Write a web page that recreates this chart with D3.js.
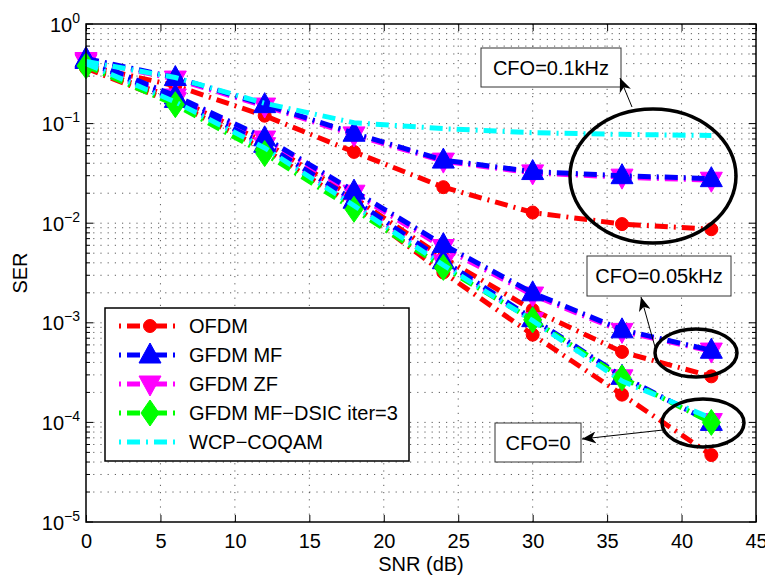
<!DOCTYPE html>
<html>
<head>
<meta charset="utf-8">
<script src="https://cdn.jsdelivr.net/npm/d3@7"></script>
<style>
  body { margin: 0; background: #fff; }
  text { font-family: "Liberation Sans", Arial, sans-serif; fill: #000; }
</style>
</head>
<body>
<div id="chart"></div>
<script>
// SNR points (dB)
const snr = [0, 6, 12, 18, 24, 30, 36, 42];

// CFO = 0.1 kHz
const ofdm01 = [0.38, 0.24, 0.12, 0.052, 0.023, 0.0128, 0.0098, 0.0087];
const mf01   = [0.45, 0.29, 0.155, 0.08, 0.043, 0.033, 0.030, 0.028];
const zf01   = [0.43, 0.28, 0.15, 0.077, 0.042, 0.032, 0.029, 0.027];
const wcp01  = [0.42, 0.29, 0.16, 0.102, 0.089, 0.081, 0.078, 0.076];

// CFO = 0.05 kHz
const ofdm005 = [0.37, 0.18, 0.065, 0.018, 0.0045, 0.00135, 0.00051, 0.00029];
const mf005   = [0.44, 0.19, 0.072, 0.021, 0.0061, 0.0020, 0.00085, 0.00053];
const zf005   = [0.42, 0.185, 0.07, 0.020, 0.0057, 0.0019, 0.00082, 0.00052];

// CFO = 0
const ofdm0 = [0.36, 0.16, 0.055, 0.015, 0.0032, 0.00076, 0.00019, 0.000047];
const mf0   = [0.43, 0.175, 0.062, 0.017, 0.0042, 0.0011, 0.00029, 0.000100];
const zf0   = [0.41, 0.17, 0.06, 0.016, 0.0040, 0.00105, 0.00028, 0.000102];
const dsic0 = [0.38, 0.155, 0.05, 0.0138, 0.0036, 0.00107, 0.00028, 0.000100];
const wcp0  = [0.40, 0.165, 0.057, 0.015, 0.0038, 0.00105, 0.00026, 0.00011];

const xTicks = [0, 5, 10, 15, 20, 25, 30, 35, 40, 45];
const yExps = [0, -1, -2, -3, -4, -5];

const legendNames = ["OFDM", "GFDM MF", "GFDM ZF", "GFDM MF\u2212DSIC iter=3", "WCP\u2212COQAM"];

const width = 765, height = 579;
const pL = 86, pR = 756, pT = 24, pB = 522;

const x = d3.scaleLinear().domain([0, 45]).range([pL, pR]);
const y = d3.scaleLog().domain([1e-5, 1]).range([pB, pT]);

const svg = d3.select("#chart").append("svg")
    .attr("width", width)
    .attr("height", height);

// marker shapes
const shapes = {
    circle: "M6.5,0A6.5,6.5 0 1,1 -6.5,0A6.5,6.5 0 1,1 6.5,0Z",
    up: "M0,-12L11,8L-11,8Z",
    down: "M0,12L11,-8L-11,-8Z",
    diamond: "M0,-13L9,0L0,13L-9,0Z"
};

// style per scheme
const styles = [
    { color: "#ff0000", shape: "circle" },
    { color: "#0000ff", shape: "up" },
    { color: "#ff00ff", shape: "down" },
    { color: "#00ff00", shape: "diamond" },
    { color: "#00ffff", shape: null }
];

// drawing order: OFDM, ZF, MF, DSIC, WCP
const curves = [
    { s: 0, v: ofdm01 }, { s: 0, v: ofdm005 }, { s: 0, v: ofdm0 },
    { s: 2, v: zf01 }, { s: 2, v: zf005 }, { s: 2, v: zf0 },
    { s: 1, v: mf01 }, { s: 1, v: mf005 }, { s: 1, v: mf0 },
    { s: 3, v: dsic0 },
    { s: 4, v: wcp01 }, { s: 4, v: wcp0 }
];

// grid
const grid = svg.append("g").attr("stroke", "#333").attr("stroke-width", 0.8)
    .attr("stroke-dasharray", "1.2,6");
const yGrid = [];
for (let e = -5; e < 0; e++) {
    for (let m = 1; m <= 9; m++) {
        const v = m * Math.pow(10, e);
        if (v > 1e-5) yGrid.push(v);
    }
}
grid.selectAll("line.h").data(yGrid).join("line").attr("class", "h")
    .attr("x1", pL).attr("x2", pR)
    .attr("y1", d => y(d)).attr("y2", d => y(d));
grid.selectAll("line.v").data(xTicks.slice(1, -1)).join("line").attr("class", "v")
    .attr("y1", pT).attr("y2", pB)
    .attr("x1", d => x(d)).attr("x2", d => x(d));

// axes ticks (inside)
svg.append("g").attr("transform", `translate(0,${pB})`)
    .call(d3.axisBottom(x).tickValues(xTicks).tickSize(-7).tickPadding(12))
    .call(g => g.select(".domain").remove())
    .call(g => g.selectAll("text").attr("font-size", 20).attr("font-family", "Liberation Sans, Arial"));
svg.append("g").attr("transform", `translate(0,${pT})`)
    .call(d3.axisTop(x).tickValues(xTicks).tickSize(-7).tickFormat(""))
    .call(g => g.select(".domain").remove());

const yMinor = yGrid.filter(v => Math.abs(Math.log10(v) - Math.round(Math.log10(v))) > 1e-6);
const yMajor = yExps.map(e => Math.pow(10, e));
const tickG = svg.append("g").attr("stroke", "#000").attr("stroke-width", 1);
[pL, pR].forEach(px => {
    const dir = px === pL ? 1 : -1;
    tickG.selectAll(null).data(yMajor).join("line")
        .attr("x1", px).attr("x2", px + dir * 7)
        .attr("y1", d => y(d)).attr("y2", d => y(d));
    tickG.selectAll(null).data(yMinor).join("line")
        .attr("x1", px).attr("x2", px + dir * 4)
        .attr("y1", d => y(d)).attr("y2", d => y(d));
});

// y labels 10^e
const yl = svg.append("g");
yExps.forEach(e => {
    const t = yl.append("text")
        .attr("x", 80).attr("y", y(Math.pow(10, e)) + 7.5)
        .attr("text-anchor", "end").attr("font-size", 20);
    t.append("tspan").text("10");
    t.append("tspan").attr("dy", -9).attr("font-size", 14)
        .text(e === 0 ? "0" : "\u2212" + Math.abs(e));
});

// axis titles
svg.append("text").attr("x", (pL + pR) / 2).attr("y", 571)
    .attr("text-anchor", "middle").attr("font-size", 20).text("SNR (dB)");
svg.append("text").attr("transform", `translate(27,${(pT + pB) / 2}) rotate(-90)`)
    .attr("text-anchor", "middle").attr("font-size", 20).text("SER");

// curves
const line = d3.line().x((d, i) => x(snr[i])).y(d => y(d));
const plot = svg.append("g");
curves.forEach(c => {
    const st = styles[c.s];
    plot.append("path")
        .attr("d", line(c.v))
        .attr("fill", "none")
        .attr("stroke", st.color)
        .attr("stroke-width", 5)
        .attr("stroke-dasharray", "13,6,2,6");
    if (st.shape) {
        plot.selectAll(null).data(c.v).join("path")
            .attr("d", shapes[st.shape])
            .attr("transform", (d, i) => `translate(${x(snr[i])},${y(d)})`)
            .attr("fill", st.color)
            .attr("stroke", st.color)
            .attr("stroke-width", 1);
    }
});

// frame
svg.append("rect").attr("x", pL).attr("y", pT)
    .attr("width", pR - pL).attr("height", pB - pT)
    .attr("fill", "none").attr("stroke", "#000").attr("stroke-width", 1.5);

// legend
const lg = svg.append("g");
lg.append("rect").attr("x", 105).attr("y", 308).attr("width", 304).attr("height", 153)
    .attr("fill", "#fff").attr("stroke", "#000").attr("stroke-width", 1.5);
legendNames.forEach((name, i) => {
    const st = styles[i];
    const ry = 326 + i * 29;
    lg.append("line").attr("x1", 119).attr("x2", 180).attr("y1", ry).attr("y2", ry)
        .attr("stroke", st.color).attr("stroke-width", 5)
        .attr("stroke-dasharray", "13,6,2,6").attr("stroke-dashoffset", 19);
    if (st.shape) {
        lg.append("path").attr("d", shapes[st.shape])
            .attr("transform", `translate(150,${ry})`)
            .attr("fill", st.color).attr("stroke", st.color).attr("stroke-width", 1);
    }
    lg.append("text").attr("x", 189).attr("y", ry + 7).attr("font-size", 20).text(name);
});

// annotations
svg.append("defs").append("marker")
    .attr("id", "arr").attr("viewBox", "0 0 14 12").attr("refX", 14).attr("refY", 6)
    .attr("markerWidth", 14).attr("markerHeight", 12).attr("markerUnits", "userSpaceOnUse")
    .attr("orient", "auto")
    .append("path").attr("d", "M0,0L14,6L0,12L4,6Z").attr("fill", "#000");

const notes = [
    { label: "CFO=0.1kHz", box: [481, 48, 140, 39], ell: [653, 176, 83, 67], from: [632, 107], to: [620, 78] },
    { label: "CFO=0.05kHz", box: [587, 256, 144, 40], ell: [696, 353, 41, 24], from: [655, 347], to: [641, 297] },
    { label: "CFO=0", box: [495, 423, 86, 39], ell: [703, 423, 41, 24], from: [663, 430], to: [582, 439] }
];
const an = svg.append("g");
notes.forEach(n => {
    an.append("ellipse").attr("cx", n.ell[0]).attr("cy", n.ell[1])
        .attr("rx", n.ell[2]).attr("ry", n.ell[3])
        .attr("fill", "none").attr("stroke", "#000").attr("stroke-width", 3.5);
    an.append("rect").attr("x", n.box[0]).attr("y", n.box[1])
        .attr("width", n.box[2]).attr("height", n.box[3])
        .attr("fill", "#fff").attr("stroke", "#333").attr("stroke-width", 1);
    an.append("text").attr("x", n.box[0] + n.box[2] / 2).attr("y", n.box[1] + n.box[3] / 2 + 7)
        .attr("text-anchor", "middle").attr("font-size", 20).text(n.label);
    an.append("line").attr("x1", n.from[0]).attr("y1", n.from[1])
        .attr("x2", n.to[0]).attr("y2", n.to[1])
        .attr("stroke", "#000").attr("stroke-width", 1)
        .attr("marker-end", "url(#arr)");
});
</script>
</body>
</html>
